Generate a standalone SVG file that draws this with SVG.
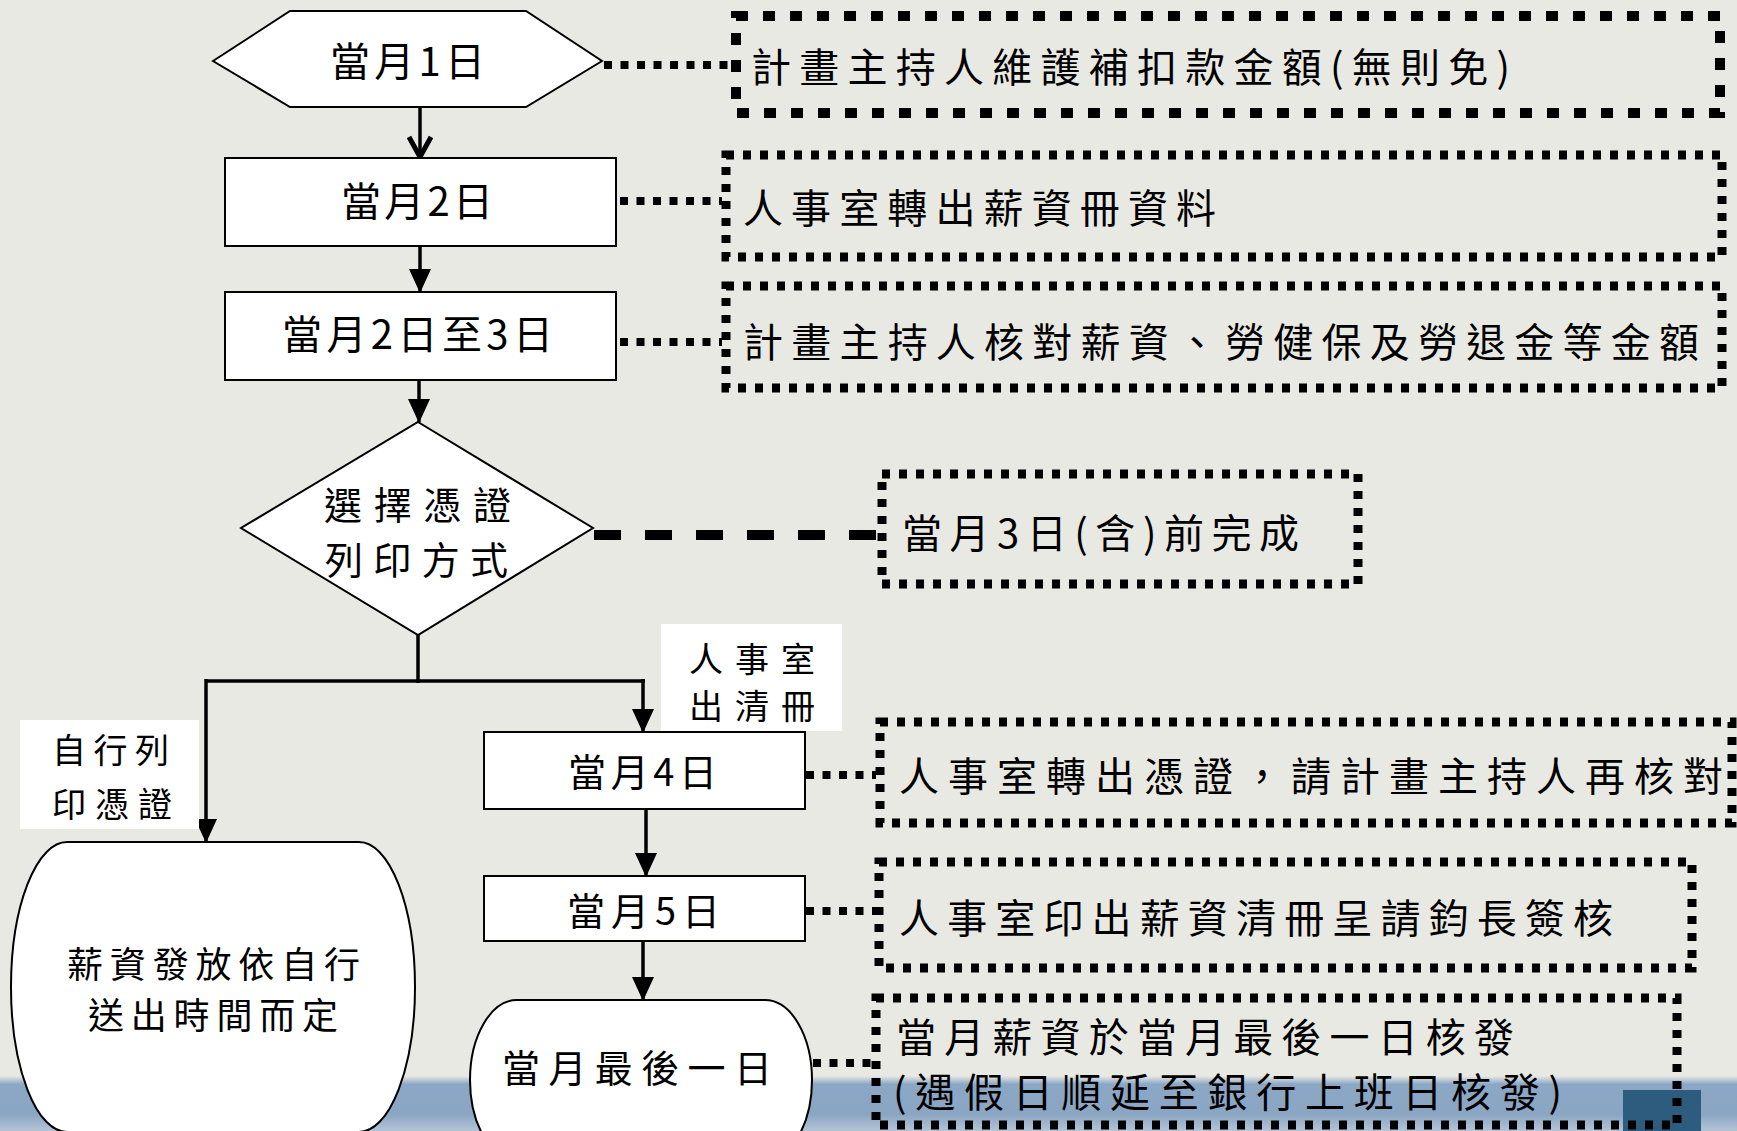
<svg xmlns="http://www.w3.org/2000/svg" width="1737" height="1131" viewBox="0 0 1737 1131">
<defs>
<style>
.t{font-family:"Noto Sans CJK TC","Noto Sans CJK SC",sans-serif;fill:#000;dominant-baseline:central}
.shape{fill:#fff;stroke:#000;stroke-width:2}
.lab{fill:#fff;stroke:none}
.note{fill:none;stroke:#000;stroke-width:9;stroke-dasharray:8 9}
.note1{fill:none;stroke:#000;stroke-width:10;stroke-dasharray:12 15}
.flow{fill:none;stroke:#000;stroke-width:3.5}
.dot{fill:none;stroke:#000;stroke-width:8;stroke-dasharray:8 8.5}
</style>
<marker id="arr" markerUnits="userSpaceOnUse" viewBox="0 0 24 22" markerWidth="24" markerHeight="22" refX="23" refY="11" orient="auto">
<path d="M0,0 L24,11 L0,22 Z" fill="#000"/>
</marker>
<marker id="arrV" markerUnits="userSpaceOnUse" viewBox="0 0 26 26" markerWidth="26" markerHeight="26" refX="23" refY="13" orient="auto">
<path d="M3,2 L23,13 L3,24" fill="none" stroke="#000" stroke-width="5"/>
</marker>
<linearGradient id="band" x1="0" y1="0" x2="0" y2="1">
<stop offset="0" stop-color="#e9e9e4"/>
<stop offset="0.15" stop-color="#8aa7c5"/>
<stop offset="0.7" stop-color="#8ba6c3"/>
<stop offset="1" stop-color="#b4c4d6"/>
</linearGradient>
</defs>
<rect x="0" y="0" width="1737" height="1131" fill="#e9e9e4"/>
<rect x="0" y="1076" width="1737" height="55" fill="url(#band)"/>
<rect x="1623" y="1090" width="78" height="41" fill="#2e5c7e"/>

<g id="connectors">
<line class="flow" x1="420" y1="107" x2="420" y2="157" marker-end="url(#arrV)"/>
<line class="flow" x1="420" y1="246" x2="420" y2="292" stroke-width="3" marker-end="url(#arr)"/>
<line class="flow" x1="419" y1="380" x2="419" y2="422" marker-end="url(#arr)"/>
<line class="flow" x1="418" y1="635" x2="418" y2="683"/>
<line class="flow" x1="206" y1="681" x2="645" y2="681" stroke-width="5"/>
<line class="flow" x1="206" y1="679" x2="206" y2="842" stroke-width="3" marker-end="url(#arr)"/>
<line class="flow" x1="643" y1="679" x2="643" y2="732" marker-end="url(#arr)"/>
<line class="flow" x1="646" y1="809" x2="646" y2="876" marker-end="url(#arr)"/>
<line class="flow" x1="643" y1="941" x2="643" y2="1000" marker-end="url(#arr)"/>
<line class="dot" x1="604" y1="65" x2="731" y2="65" stroke-width="9" stroke-dasharray="12 12"/>
<line class="dot" x1="620" y1="201" x2="722" y2="201"/>
<line class="dot" x1="620" y1="342" x2="722" y2="342"/>
<line x1="594" y1="535" x2="876" y2="535" stroke="#000" stroke-width="10" stroke-dasharray="27 24"/>
<line class="dot" x1="806" y1="775" x2="876" y2="775"/>
<line class="dot" x1="806" y1="911" x2="876" y2="911"/>
<line class="dot" x1="813" y1="1063" x2="872" y2="1063"/>
</g>

<g id="n1">
<polygon class="shape" points="213,61 290,11 526,11 602,61 526,107 290,107"/>
<text class="t" x="330" y="59" font-size="40" textLength="155" lengthAdjust="spacing">當月1日</text>
</g>
<g id="n2">
<rect class="shape" x="225" y="158" width="391" height="88"/>
<text class="t" x="341" y="199" font-size="40" textLength="152" lengthAdjust="spacing">當月2日</text>
</g>
<g id="n3">
<rect class="shape" x="225" y="292" width="391" height="88"/>
<text class="t" x="282" y="332" font-size="40" textLength="271" lengthAdjust="spacing">當月2日至3日</text>
</g>
<g id="n4">
<polygon class="shape" points="418,422 593,528 418,635 241,528"/>
<text class="t" x="324" y="502" font-size="38" textLength="187" lengthAdjust="spacing">選擇憑證</text>
<text class="t" x="325" y="557" font-size="38" textLength="183" lengthAdjust="spacing">列印方式</text>
</g>
<g id="lab1">
<rect class="lab" x="661" y="624" width="181" height="107"/>
<text class="t" x="689" y="657" font-size="34" textLength="126" lengthAdjust="spacing">人事室</text>
<text class="t" x="689" y="704" font-size="34" textLength="126" lengthAdjust="spacing">出清冊</text>
</g>
<g id="lab2">
<rect class="lab" x="20" y="720" width="179" height="109"/>
<text class="t" x="52" y="748" font-size="34" textLength="117" lengthAdjust="spacing">自行列</text>
<text class="t" x="52" y="802" font-size="34" textLength="120" lengthAdjust="spacing">印憑證</text>
</g>
<g id="n5">
<rect class="shape" x="484" y="732" width="321" height="77"/>
<text class="t" x="568" y="769" font-size="38" textLength="149" lengthAdjust="spacing">當月4日</text>
</g>
<g id="n6">
<rect class="shape" x="484" y="876" width="321" height="65"/>
<text class="t" x="567" y="908" font-size="38" textLength="153" lengthAdjust="spacing">當月5日</text>
</g>
<g id="n7">
<path class="shape" d="M517,1000 H765 A47,80 0 0 1 765,1160 H517 A47,80 0 0 1 517,1000 Z" stroke-width="1.5"/>
<text class="t" x="502" y="1065" font-size="38" textLength="270" lengthAdjust="spacing">當月最後一日</text>
</g>
<g id="n8">
<path class="shape" d="M67,842 H359 A56,145 0 0 1 359,1132 H67 A56,145 0 0 1 67,842 Z" stroke-width="1.5"/>
<text class="t" x="67" y="962" font-size="36" textLength="293" lengthAdjust="spacing">薪資發放依自行</text>
<text class="t" x="88" y="1013" font-size="36" textLength="250" lengthAdjust="spacing">送出時間而定</text>
</g>

<g id="b1">
<rect class="note1" x="736" y="16" width="984" height="97"/>
<text class="t" x="751" y="65" font-size="40" textLength="759" lengthAdjust="spacing">計畫主持人維護補扣款金額(無則免)</text>
</g>
<g id="b2">
<rect class="note" x="726" y="155" width="996" height="102"/>
<text class="t" x="743" y="206" font-size="40" textLength="473" lengthAdjust="spacing">人事室轉出薪資冊資料</text>
</g>
<g id="b3">
<rect class="note" x="726" y="286" width="996" height="102"/>
<text class="t" x="743" y="340" font-size="40" textLength="956" lengthAdjust="spacing">計畫主持人核對薪資、勞健保及勞退金等金額</text>
</g>
<g id="b4">
<rect class="note" x="882" y="474" width="476" height="110"/>
<text class="t" x="902" y="531" font-size="40" textLength="397" lengthAdjust="spacing">當月3日(含)前完成</text>
</g>
<g id="b5">
<rect class="note" x="880" y="722" width="852" height="101"/>
<text class="t" x="899" y="774" font-size="40" textLength="824" lengthAdjust="spacing">人事室轉出憑證，請計畫主持人再核對</text>
</g>
<g id="b6">
<rect class="note" x="879" y="862" width="813" height="106"/>
<text class="t" x="899" y="916" font-size="40" textLength="714" lengthAdjust="spacing">人事室印出薪資清冊呈請鈞長簽核</text>
</g>
<g id="b7">
<rect class="note" x="876" y="998" width="801" height="127"/>
<text class="t" x="896" y="1035" font-size="40" textLength="618" lengthAdjust="spacing">當月薪資於當月最後一日核發</text>
<text class="t" x="893" y="1090" font-size="40" textLength="669" lengthAdjust="spacing">(遇假日順延至銀行上班日核發)</text>
</g>
</svg>
